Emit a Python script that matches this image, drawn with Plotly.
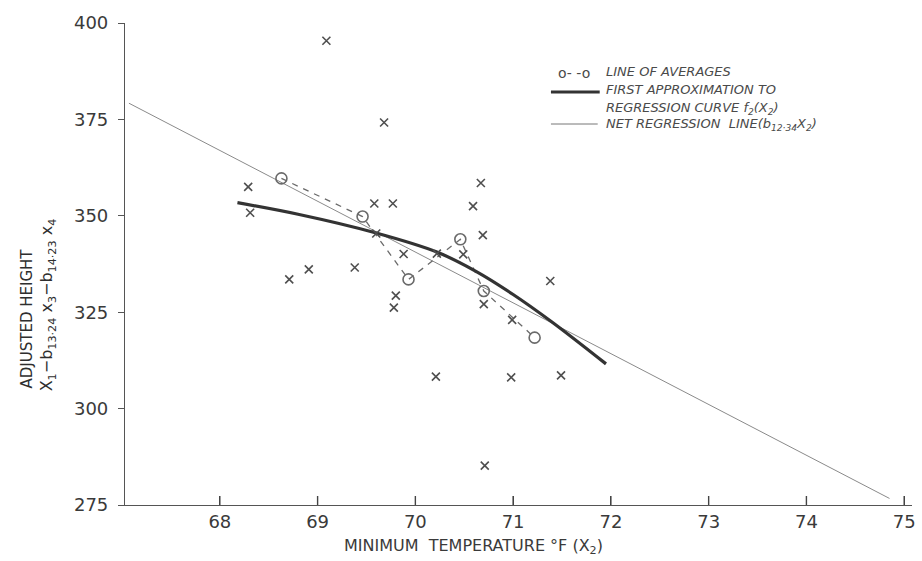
import plotly.graph_objects as go

# ---- data ----
cross_x = [69.09, 69.68, 68.29, 68.31, 68.71, 68.91, 69.38, 69.58, 69.77, 69.88,
           69.80, 69.78, 70.67, 70.59, 70.69, 70.49, 70.70, 71.38, 70.21, 70.98,
           71.49, 70.71, 70.22, 69.60, 70.99]
cross_y = [395.4, 374.2, 357.5, 350.8, 333.5, 336.1, 336.6, 353.2, 353.2, 340.1,
           329.3, 326.2, 358.5, 352.5, 345.0, 340.0, 327.1, 333.1, 308.3, 308.1,
           308.6, 285.2, 340.2, 345.4, 323.0]

avg_x = [68.63, 69.46, 69.93, 70.46, 70.70, 71.22]
avg_y = [359.7, 349.8, 333.5, 343.9, 330.5, 318.4]

curve_x = [68.18, 68.80, 69.59, 70.22, 70.62, 71.00, 71.39, 71.95]
curve_y = [353.4, 350.4, 345.6, 340.6, 335.6, 329.6, 322.6, 311.6]

net_x = [67.07, 74.85]
net_y = [379.2, 276.7]

x_ticks = [68, 69, 70, 71, 72, 73, 74, 75]
y_ticks = [275, 300, 325, 350, 375, 400]

FONT = "DejaVu Sans"
INK = "#3a3a3a"

X_RANGE = [67.03, 75.08]
fig = go.Figure()

fig.add_trace(go.Scatter(x=net_x, y=net_y, mode="lines",
                         line=dict(color="#8a8a8a", width=1), showlegend=False,
                         hoverinfo="skip"))
fig.add_trace(go.Scatter(x=avg_x, y=avg_y, mode="lines+markers",
                         line=dict(color="#6a6a6a", width=1.3, dash="6px,6px"),
                         marker=dict(symbol="circle-open", size=11,
                                     line=dict(color="#4a4a4a", width=1.6)),
                         showlegend=False))
fig.add_trace(go.Scatter(x=curve_x, y=curve_y, mode="lines",
                         line=dict(color="#333333", width=3.2, shape="spline",
                                   smoothing=1.0),
                         showlegend=False))
fig.add_trace(go.Scatter(x=cross_x, y=cross_y, mode="markers",
                         marker=dict(symbol="x-thin", size=8,
                                     line=dict(color="#4f4f4f", width=1.6)),
                         showlegend=False))

# ---- hand-drawn style legend (upper right) ----
L = 125
R = 915.8
W = R - L
T = 23
H = 505 - 23


def px(x):
    return (x - L) / W


def py(y):
    return (T + H - y) / H


legend_font = dict(family=FONT, size=13, color="#4a4a4a", style="italic")
legend_rows = [
    ("LINE OF AVERAGES", 71),
    ("FIRST APPROXIMATION TO", 90),
    ("REGRESSION CURVE f<sub>2</sub>(X<sub>2</sub>)", 108),
    ("NET REGRESSION  LINE(b<sub>12·34</sub>X<sub>2</sub>)", 124),
]
annotations = []
for txt, yy in legend_rows:
    annotations.append(dict(xref="paper", yref="paper", x=px(606), y=py(yy),
                            text=txt, showarrow=False, xanchor="left",
                            yanchor="middle", font=legend_font))
annotations.append(dict(xref="paper", yref="paper", x=px(576), y=py(73),
                        text="o- -o", showarrow=False, xanchor="center",
                        yanchor="middle",
                        font=dict(family=FONT, size=14, color="#4a4a4a")))

shapes = [
    dict(type="line", xref="paper", yref="paper", x0=px(553), x1=px(602),
         y0=py(92), y1=py(92), line=dict(color="#333333", width=3)),
    dict(type="line", xref="paper", yref="paper", x0=px(553), x1=px(600),
         y0=py(124), y1=py(124), line=dict(color="#777777", width=1)),
]
# upward tick marks on the x axis, one per tick value
for t in x_ticks:
    shapes.append(dict(type="line", xref="x", yref="paper", x0=t, x1=t,
                       y0=0, y1=9 / H, layer="above",
                       line=dict(color="#444444", width=1.4)))

# axis titles
annotations.append(dict(xref="paper", yref="paper", x=px(475), y=py(546),
                        text="MINIMUM  TEMPERATURE °F (X<sub>2</sub>)",
                        showarrow=False, xanchor="center", yanchor="middle",
                        font=dict(family=FONT, size=16, color=INK)))
annotations.append(dict(xref="paper", yref="paper", x=px(27), y=py(318),
                        text="ADJUSTED HEIGHT", textangle=-90,
                        showarrow=False, xanchor="center", yanchor="middle",
                        font=dict(family=FONT, size=15, color="#2e2e2e")))
annotations.append(dict(xref="paper", yref="paper", x=px(48), y=py(305),
                        text="X<sub>1</sub>−b<sub>13·24</sub> x<sub>3</sub>−b<sub>14·23</sub> x<sub>4</sub>",
                        textangle=-90, showarrow=False, xanchor="center",
                        yanchor="middle",
                        font=dict(family=FONT, size=16, color="#2e2e2e")))

fig.update_layout(
    width=922, height=561,
    margin=dict(l=L, r=922 - R, t=T, b=561 - 505),
    paper_bgcolor="white", plot_bgcolor="white",
    showlegend=False,
    annotations=annotations,
    shapes=shapes,
    xaxis=dict(range=X_RANGE, tickvals=x_ticks,
               ticktext=[str(v) for v in x_ticks],
               showgrid=False, zeroline=False, showline=True,
               linecolor="#555555", linewidth=1.2,
               ticks="inside", ticklen=9, tickwidth=1.4, tickcolor="#444444",
               ticklabeloverflow="allow",
               tickfont=dict(family=FONT, size=18, color=INK)),
    yaxis=dict(range=[275, 400], tickvals=y_ticks,
               ticktext=[str(v) for v in y_ticks],
               showgrid=False, zeroline=False, showline=True,
               linecolor="#555555", linewidth=1.2,
               ticks="outside", ticklen=6, tickwidth=1.2, tickcolor="#555555",
               ticklabelstandoff=6,
               tickfont=dict(family=FONT, size=18, color=INK)),
)

fig.write_html("out.html")
